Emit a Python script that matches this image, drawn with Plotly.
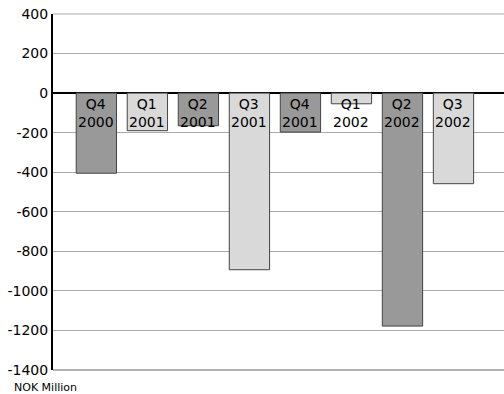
import plotly.graph_objects as go

categories = ["Q4<br>2000", "Q1<br>2001", "Q2<br>2001", "Q3<br>2001",
              "Q4<br>2001", "Q1<br>2002", "Q2<br>2002", "Q3<br>2002"]
values = [-405, -190, -165, -893, -197, -54, -1178, -458]
bar_colors = ["#999999", "#d9d9d9", "#999999", "#d9d9d9",
              "#999999", "#d9d9d9", "#999999", "#d9d9d9"]
tick_vals = [400, 200, 0, -200, -400, -600, -800, -1000, -1200, -1400]
unit_label = "NOK Million"

W, H = 504, 394
L, R, T, B = 53, 0, 14, 24
PW, PH = W - L - R, H - T - B

x_idx = list(range(len(categories)))

fig = go.Figure()
fig.add_trace(go.Bar(
    x=x_idx, y=values, width=0.79,
    marker=dict(color=bar_colors, line=dict(color="#444444", width=1)),
    hoverinfo="skip",
))

annotations = []
for i, lab in enumerate(categories):
    annotations.append(dict(
        x=i, y=0, xref="x", yref="y", text=lab, showarrow=False,
        yanchor="top", xanchor="center", yshift=-1,
        font=dict(family="DejaVu Sans", size=14, color="#000000"),
    ))
annotations.append(dict(
    x=(12 - L) / PW, y=0, xref="paper", yref="paper",
    xanchor="left", yanchor="middle", yshift=-(387 - (H - B)),
    text=unit_label, showarrow=False,
    font=dict(family="DejaVu Sans", size=11, color="#000000"),
))

shapes = [
    dict(type="line", xref="paper", yref="paper", x0=0, x1=1, y0=1, y1=1,
         line=dict(color="#aaaaaa", width=1), layer="below"),
    dict(type="line", xref="paper", yref="paper", x0=0, x1=1, y0=0, y1=0,
         line=dict(color="#999999", width=1.5), layer="above"),
]

fig.update_layout(
    width=W, height=H,
    margin=dict(l=L, r=R, t=T, b=B, pad=0),
    plot_bgcolor="white", paper_bgcolor="white",
    showlegend=False,
    annotations=annotations,
    shapes=shapes,
    xaxis=dict(range=[-0.85, 7.99], showticklabels=False, showgrid=False,
               zeroline=False, showline=False, ticks=""),
    yaxis=dict(range=[-1400, 400], tickvals=tick_vals,
               ticktext=[str(v) for v in tick_vals],
               showgrid=True, gridcolor="#aaaaaa", gridwidth=1,
               zeroline=True, zerolinecolor="#000000", zerolinewidth=2,
               showline=True, linecolor="#000000", linewidth=2,
               ticks="", ticklen=0,
               tickfont=dict(family="DejaVu Sans", size=14, color="#000000")),
    font=dict(family="DejaVu Sans"),
)

fig.write_html("out.html")
